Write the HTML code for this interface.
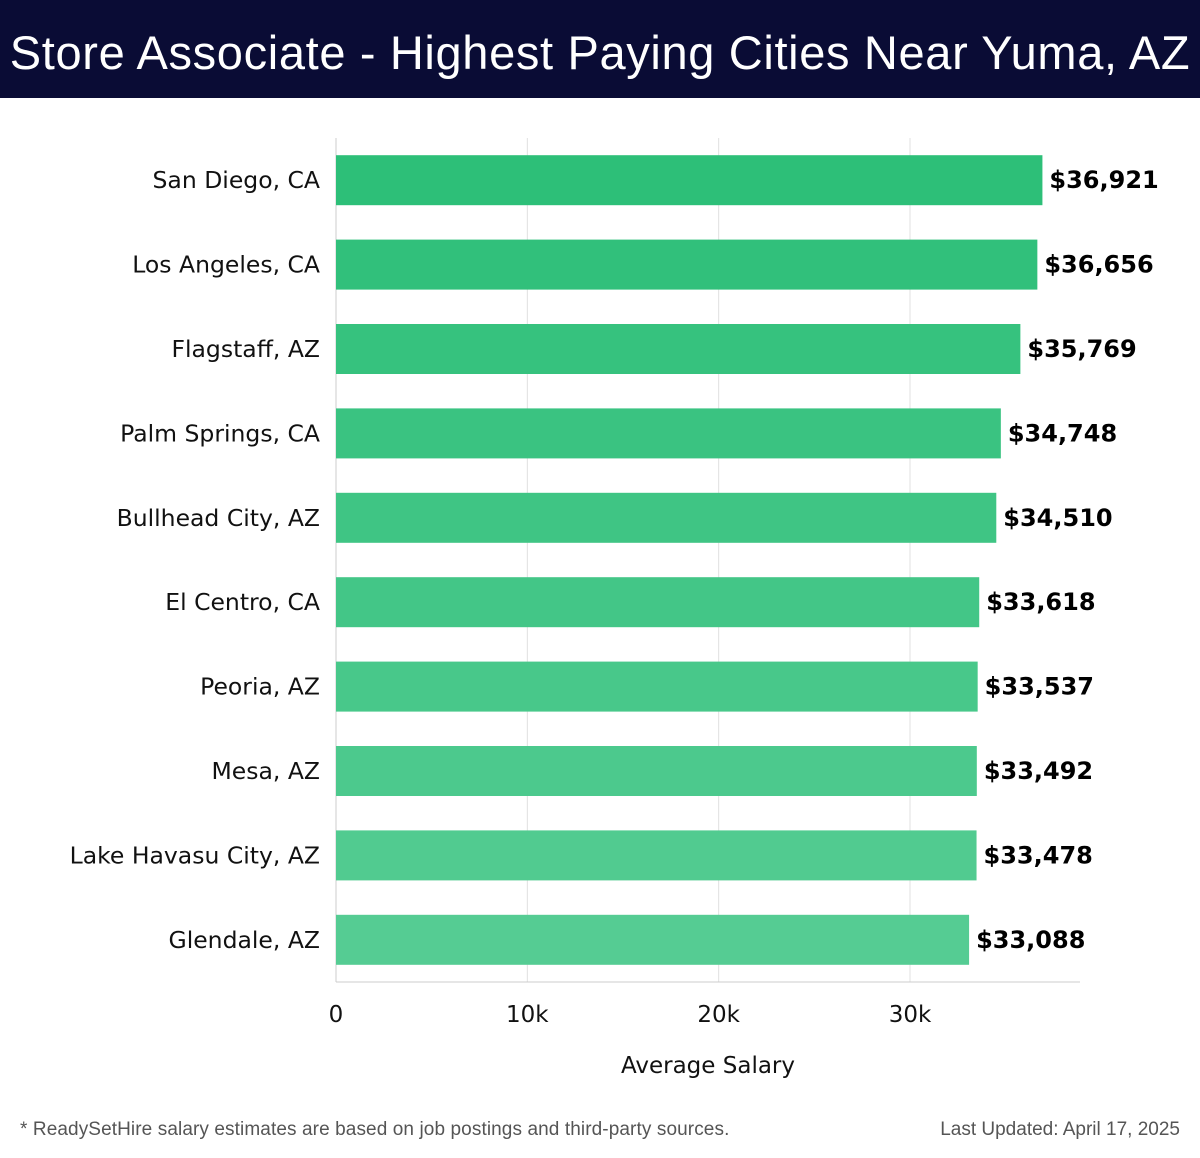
<!DOCTYPE html>
<html><head><meta charset="utf-8"><style>
body{margin:0;width:1200px;height:1158px;background:#fff;font-family:"Liberation Sans",sans-serif;position:relative;overflow:hidden}
#title{position:absolute;left:0;top:0;width:1200px;height:98px;background:#0a0c35;color:#fff;font-size:47px;line-height:106px;text-align:center;white-space:nowrap;letter-spacing:0.65px}
.foot{position:absolute;top:1119px;font-size:19px;color:#555}
</style></head><body>
<div id="title">Store Associate - Highest Paying Cities Near Yuma, AZ</div>
<svg id="chart" width="1200" height="1100" style="position:absolute;left:0;top:0;font-family:'DejaVu Sans',sans-serif"></svg>
<div class="foot" style="left:20px;letter-spacing:0.1px">* ReadySetHire salary estimates are based on job postings and third-party sources.</div>
<div class="foot" style="right:20px">Last Updated: April 17, 2025</div>
<script>
const categories=["San Diego, CA","Los Angeles, CA","Flagstaff, AZ","Palm Springs, CA","Bullhead City, AZ","El Centro, CA","Peoria, AZ","Mesa, AZ","Lake Havasu City, AZ","Glendale, AZ"];
const values=[36921,36656,35769,34748,34510,33618,33537,33492,33478,33088];
const valueLabels=["$36,921","$36,656","$35,769","$34,748","$34,510","$33,618","$33,537","$33,492","$33,478","$33,088"];
const ticks=[0,10000,20000,30000];
const tickLabels=["0","10k","20k","30k"];
const NS="http://www.w3.org/2000/svg";
const svg=document.getElementById('chart');
const x0=336,pxPerUnit=(910-336)/30000,top0=138,step=84.4,barH=50;
const xs=v=>x0+v*pxPerUnit;
const yc=i=>top0+step*(i+0.5);
function mk(t,a,txt){const e=document.createElementNS(NS,t);for(const k in a)e.setAttribute(k,a[k]);if(txt!=null)e.textContent=txt;svg.appendChild(e);return e;}
ticks.forEach((t,i)=>{
  const g=mk('line',{x1:xs(t),x2:xs(t),y1:top0,y2:982,stroke:i==0?'#ccc':'#e0e0e0','stroke-width':1});
  
  
  const l=mk('text',{x:xs(t),y:1022,'text-anchor':'middle','font-size':23,fill:'#111'},tickLabels[i]);
  
  
});
const ax=mk('line',{x1:x0,x2:1080,y1:982,y2:982,stroke:'#ccc','stroke-width':1});


const at=mk('text',{x:708,y:1073,'text-anchor':'middle','font-size':23,fill:'#111'},'Average Salary');


const c1=[45,191,120],c2=[85,204,147];
categories.forEach((c,i)=>{
  const f=i/(categories.length-1);
  const col=`rgb(${c1.map((v,k)=>Math.round(v+(c2[k]-v)*f)).join(',')})`;
  const b=mk('rect',{x:x0,y:yc(i)-barH/2,width:xs(values[i])-x0,height:barH,fill:col});
  
  
  const l=mk('text',{x:320,y:yc(i)+8,'text-anchor':'end','font-size':23.5,fill:'#111'},c);
  
  
  const v=mk('text',{x:xs(values[i])+7,y:yc(i)+8,'font-size':24,'font-weight':'bold',fill:'#000'},valueLabels[i]);
  
  
});
</script>
</body></html>
